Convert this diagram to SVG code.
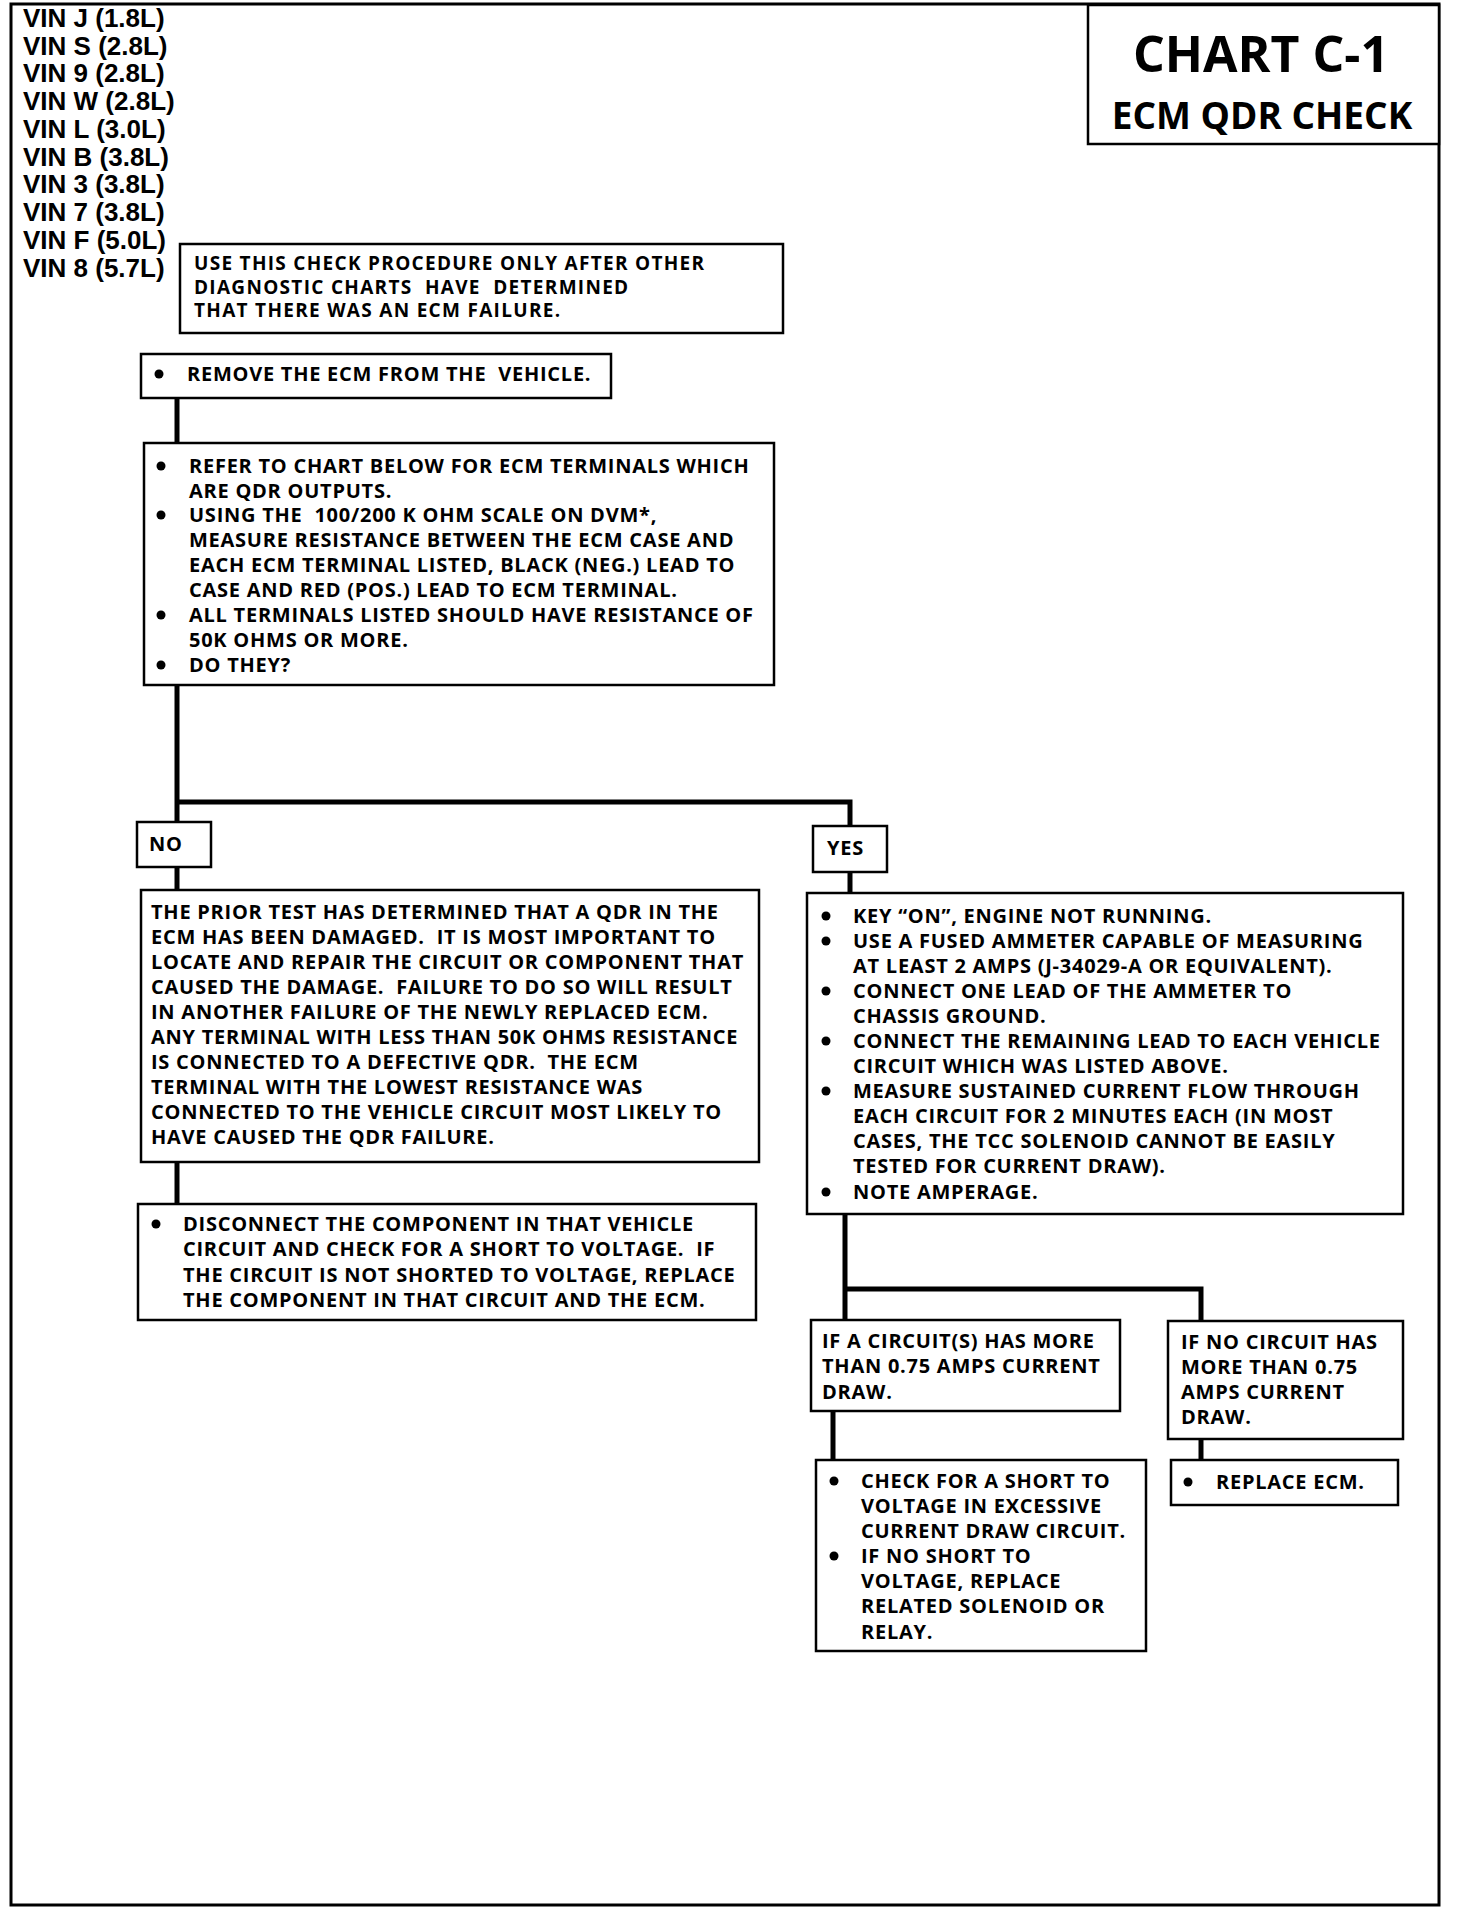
<svg xmlns="http://www.w3.org/2000/svg" width="1472" height="1912" viewBox="0 0 1472 1912">
<style>
.frame{fill:none;stroke:#000;stroke-width:3}
.box{fill:#fff;stroke:#000;stroke-width:2.5}
.t{font-family:"Open Sans","Liberation Sans",sans-serif;font-weight:bold;font-size:20px;letter-spacing:0.75px;fill:#000;white-space:pre}
.t1{font-size:19px;letter-spacing:1.3px}
.vin{font-family:"Liberation Sans",Arial,sans-serif;font-weight:bold;font-size:26px;fill:#000}
.title{font-family:"Open Sans","Liberation Sans",sans-serif;font-weight:bold;fill:#000;text-anchor:middle}
.conn{fill:none;stroke:#000;stroke-width:5;stroke-linejoin:miter}
.b{fill:#000}
</style>
<rect width="1472" height="1912" fill="#fff"/>
<rect class="frame" x="11" y="4" width="1428" height="1901"/>
<g id="title">
<rect class="box" x="1088" y="5" width="351" height="139"/>
<text class="title" x="1261" y="72" font-size="50">CHART C-1</text>
<text class="title" x="1262" y="129" font-size="37">ECM QDR CHECK</text>
</g>
<g id="vin">
<text class="vin" x="23" y="27">VIN J (1.8L)</text>
<text class="vin" x="23" y="55">VIN S (2.8L)</text>
<text class="vin" x="23" y="82">VIN 9 (2.8L)</text>
<text class="vin" x="23" y="110">VIN W (2.8L)</text>
<text class="vin" x="23" y="138">VIN L (3.0L)</text>
<text class="vin" x="23" y="166">VIN B (3.8L)</text>
<text class="vin" x="23" y="193">VIN 3 (3.8L)</text>
<text class="vin" x="23" y="221">VIN 7 (3.8L)</text>
<text class="vin" x="23" y="249">VIN F (5.0L)</text>
<text class="vin" x="23" y="277">VIN 8 (5.7L)</text>
</g>
<g id="connectors">
<path class="conn" d="M177 398V443"/>
<path class="conn" d="M177 685V822M177 802H850V826"/>
<path class="conn" d="M177 867V890"/>
<path class="conn" d="M850 872V893"/>
<path class="conn" d="M177 1162V1204"/>
<path class="conn" d="M845 1214V1320M845 1289H1201V1321"/>
<path class="conn" d="M833 1411V1460"/>
<path class="conn" d="M1201 1439V1460"/>
</g>
<g id="n1">
<rect class="box" x="180" y="244" width="603" height="89"/>
<text class="t t1" x="194" y="270">USE THIS CHECK PROCEDURE ONLY AFTER OTHER</text>
<text class="t t1" x="194" y="293.5">DIAGNOSTIC CHARTS  HAVE  DETERMINED</text>
<text class="t t1" x="194" y="317">THAT THERE WAS AN ECM FAILURE.</text>
</g>
<g id="n2">
<rect class="box" x="141" y="354" width="470" height="44"/>
<circle class="b" cx="159" cy="374" r="4.5"/>
<text class="t" x="187" y="381">REMOVE THE ECM FROM THE  VEHICLE.</text>
</g>
<g id="n3">
<rect class="box" x="144" y="443" width="630" height="242"/>
<circle class="b" cx="161" cy="466" r="4.5"/>
<circle class="b" cx="161" cy="515" r="4.5"/>
<circle class="b" cx="161" cy="615" r="4.5"/>
<circle class="b" cx="161" cy="665" r="4.5"/>
<text class="t" x="189" y="473">REFER TO CHART BELOW FOR ECM TERMINALS WHICH</text>
<text class="t" x="189" y="497.5">ARE QDR OUTPUTS.</text>
<text class="t" x="189" y="522">USING THE  100/200 K OHM SCALE ON DVM*,</text>
<text class="t" x="189" y="547">MEASURE RESISTANCE BETWEEN THE ECM CASE AND</text>
<text class="t" x="189" y="572">EACH ECM TERMINAL LISTED, BLACK (NEG.) LEAD TO</text>
<text class="t" x="189" y="597">CASE AND RED (POS.) LEAD TO ECM TERMINAL.</text>
<text class="t" x="189" y="622">ALL TERMINALS LISTED SHOULD HAVE RESISTANCE OF</text>
<text class="t" x="189" y="647">50K OHMS OR MORE.</text>
<text class="t" x="189" y="672">DO THEY?</text>
</g>
<g id="no">
<rect class="box" x="137" y="822" width="74" height="45"/>
<text class="t" x="149" y="851">NO</text>
</g>
<g id="yes">
<rect class="box" x="813" y="826" width="74" height="46"/>
<text class="t" x="827" y="855">YES</text>
</g>
<g id="n4">
<rect class="box" x="141" y="890" width="618" height="272"/>
<text class="t" x="151" y="919">THE PRIOR TEST HAS DETERMINED THAT A QDR IN THE</text>
<text class="t" x="151" y="944">ECM HAS BEEN DAMAGED.  IT IS MOST IMPORTANT TO</text>
<text class="t" x="151" y="969">LOCATE AND REPAIR THE CIRCUIT OR COMPONENT THAT</text>
<text class="t" x="151" y="994">CAUSED THE DAMAGE.  FAILURE TO DO SO WILL RESULT</text>
<text class="t" x="151" y="1019">IN ANOTHER FAILURE OF THE NEWLY REPLACED ECM.</text>
<text class="t" x="151" y="1044">ANY TERMINAL WITH LESS THAN 50K OHMS RESISTANCE</text>
<text class="t" x="151" y="1069">IS CONNECTED TO A DEFECTIVE QDR.  THE ECM</text>
<text class="t" x="151" y="1094">TERMINAL WITH THE LOWEST RESISTANCE WAS</text>
<text class="t" x="151" y="1119">CONNECTED TO THE VEHICLE CIRCUIT MOST LIKELY TO</text>
<text class="t" x="151" y="1144">HAVE CAUSED THE QDR FAILURE.</text>
</g>
<g id="n5">
<rect class="box" x="807" y="893" width="596" height="321"/>
<circle class="b" cx="826" cy="916" r="4.5"/>
<circle class="b" cx="826" cy="941" r="4.5"/>
<circle class="b" cx="826" cy="991" r="4.5"/>
<circle class="b" cx="826" cy="1041" r="4.5"/>
<circle class="b" cx="826" cy="1091" r="4.5"/>
<circle class="b" cx="826" cy="1192" r="4.5"/>
<text class="t" x="853" y="923">KEY “ON”, ENGINE NOT RUNNING.</text>
<text class="t" x="853" y="948">USE A FUSED AMMETER CAPABLE OF MEASURING</text>
<text class="t" x="853" y="973">AT LEAST 2 AMPS (J-34029-A OR EQUIVALENT).</text>
<text class="t" x="853" y="998">CONNECT ONE LEAD OF THE AMMETER TO</text>
<text class="t" x="853" y="1023">CHASSIS GROUND.</text>
<text class="t" x="853" y="1048">CONNECT THE REMAINING LEAD TO EACH VEHICLE</text>
<text class="t" x="853" y="1073">CIRCUIT WHICH WAS LISTED ABOVE.</text>
<text class="t" x="853" y="1098">MEASURE SUSTAINED CURRENT FLOW THROUGH</text>
<text class="t" x="853" y="1123">EACH CIRCUIT FOR 2 MINUTES EACH (IN MOST</text>
<text class="t" x="853" y="1148">CASES, THE TCC SOLENOID CANNOT BE EASILY</text>
<text class="t" x="853" y="1173">TESTED FOR CURRENT DRAW).</text>
<text class="t" x="853" y="1199">NOTE AMPERAGE.</text>
</g>
<g id="n6">
<rect class="box" x="138" y="1204" width="618" height="116"/>
<circle class="b" cx="156" cy="1224" r="4.5"/>
<text class="t" x="183" y="1231">DISCONNECT THE COMPONENT IN THAT VEHICLE</text>
<text class="t" x="183" y="1256">CIRCUIT AND CHECK FOR A SHORT TO VOLTAGE.  IF</text>
<text class="t" x="183" y="1282">THE CIRCUIT IS NOT SHORTED TO VOLTAGE, REPLACE</text>
<text class="t" x="183" y="1307">THE COMPONENT IN THAT CIRCUIT AND THE ECM.</text>
</g>
<g id="n7">
<rect class="box" x="811" y="1320" width="309" height="91"/>
<text class="t" x="822" y="1348">IF A CIRCUIT(S) HAS MORE</text>
<text class="t" x="822" y="1373">THAN 0.75 AMPS CURRENT</text>
<text class="t" x="822" y="1399">DRAW.</text>
</g>
<g id="n8">
<rect class="box" x="1168" y="1321" width="235" height="118"/>
<text class="t" x="1181" y="1349">IF NO CIRCUIT HAS</text>
<text class="t" x="1181" y="1374">MORE THAN 0.75</text>
<text class="t" x="1181" y="1399">AMPS CURRENT</text>
<text class="t" x="1181" y="1424">DRAW.</text>
</g>
<g id="n9">
<rect class="box" x="816" y="1460" width="330" height="191"/>
<circle class="b" cx="834" cy="1481" r="4.5"/>
<circle class="b" cx="834" cy="1556" r="4.5"/>
<text class="t" x="861" y="1488">CHECK FOR A SHORT TO</text>
<text class="t" x="861" y="1513">VOLTAGE IN EXCESSIVE</text>
<text class="t" x="861" y="1538">CURRENT DRAW CIRCUIT.</text>
<text class="t" x="861" y="1563">IF NO SHORT TO</text>
<text class="t" x="861" y="1588">VOLTAGE, REPLACE</text>
<text class="t" x="861" y="1613">RELATED SOLENOID OR</text>
<text class="t" x="861" y="1639">RELAY.</text>
</g>
<g id="n10">
<rect class="box" x="1171" y="1460" width="227" height="45"/>
<circle class="b" cx="1188" cy="1482" r="4.5"/>
<text class="t" x="1216" y="1489">REPLACE ECM.</text>
</g>
</svg>
